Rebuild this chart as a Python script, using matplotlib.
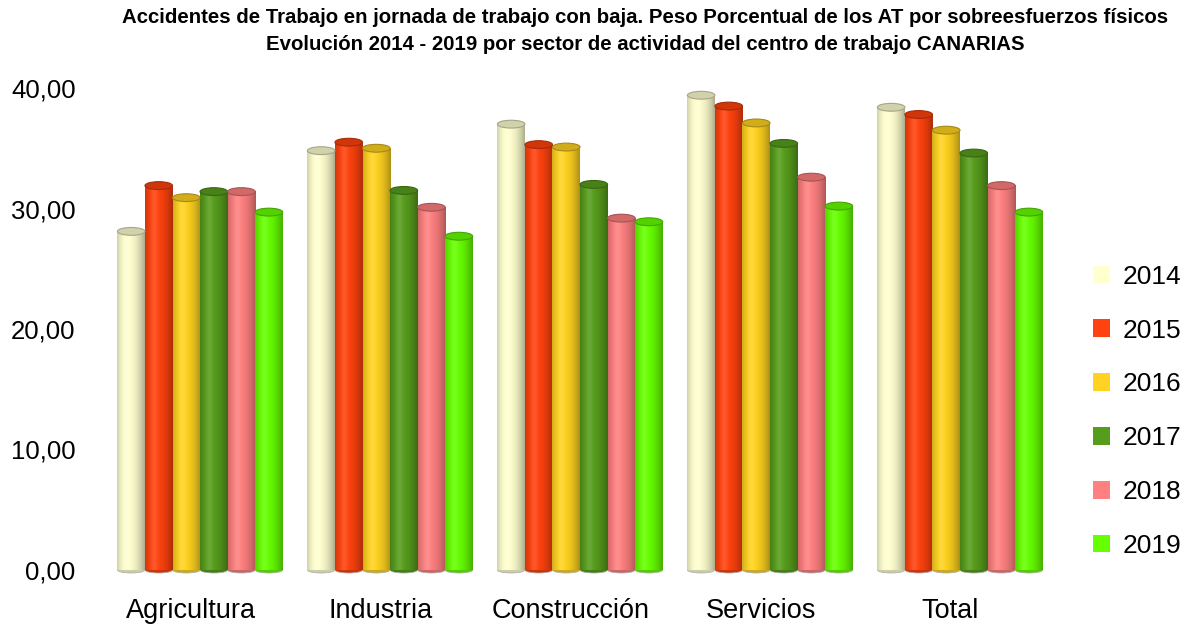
import numpy as np
import matplotlib
matplotlib.use("Agg")
from matplotlib import pyplot as plt
from matplotlib.patches import Ellipse, Patch
from matplotlib.ticker import FuncFormatter

plt.rcParams['font.family'] = ['Liberation Sans', 'DejaVu Sans']

sectores = ["Agricultura", "Industria", "Construcción", "Servicios", "Total"]
years = ["2014", "2015", "2016", "2017", "2018", "2019"]
colors = ["#FFFFD0", "#FF420E", "#FFD320", "#579D1C", "#FF8080", "#66FF00"]

# peso porcentual por año (una lista por año, en orden de sectores)
v2014 = [28.1, 34.8, 37.0, 39.4, 38.4]
v2015 = [31.9, 35.5, 35.3, 38.5, 37.8]
v2016 = [30.9, 35.0, 35.1, 37.1, 36.5]
v2017 = [31.4, 31.5, 32.0, 35.4, 34.6]
v2018 = [31.4, 30.1, 29.2, 32.6, 31.9]
v2019 = [29.7, 27.7, 28.9, 30.2, 29.7]
series = [v2014, v2015, v2016, v2017, v2018, v2019]

fig = plt.figure(figsize=(11.88, 6.25), dpi=100)
ax = fig.add_axes([95 / 1188, 55 / 625, 960 / 1188, 482 / 625])

w = 0.145
t = np.linspace(0, 1, 64)
# cylinder shading across the bar width
shade = np.where(t < 0.35, 1 - 0.18 * ((0.35 - t) / 0.35) ** 2,
                 1 - 0.32 * ((t - 0.35) / 0.65) ** 2)
hl = 0.12 * np.exp(-((t - 0.33) / 0.12) ** 2)

for j, vals in enumerate(series):
    c = np.array(matplotlib.colors.to_rgb(colors[j]))
    grad = np.clip(c[None, :] * shade[:, None] + (1 - c[None, :]) * hl[:, None], 0, 1)
    for i, v in enumerate(vals):
        x0 = i + (j - 2.5) * w - w / 2
        ax.add_patch(Ellipse((x0 + w / 2, 0), w, 0.5, facecolor=c * 0.8,
                             edgecolor="#aaaaaa", lw=0.5, clip_on=False, zorder=2))
        ax.imshow(grad[None, :, :], extent=(x0, x0 + w, 0, v), aspect='auto',
                  interpolation='bilinear', zorder=3)
        ax.add_patch(Ellipse((x0 + w / 2, v), w, 0.65, facecolor=c * 0.82,
                             edgecolor=c * 0.65, lw=0.8, zorder=4))

ax.set_xlim(-0.553, 4.5)
ax.set_ylim(0, 40)
# labels sit slightly left of the group centres
ax.set_xticks(np.arange(len(sectores)) - 0.05)
ax.set_xticklabels(sectores, fontsize=19.5)
ax.set_yticks([0, 10, 20, 30, 40])
ax.yaxis.set_major_formatter(FuncFormatter(lambda y, p: f"{y:.2f}".replace(".", ",")))
ax.tick_params(axis='y', labelsize=18.5, length=0, pad=14)
ax.tick_params(axis='x', length=0, pad=20)
for s in ax.spines.values():
    s.set_visible(False)

handles = [Patch(facecolor=colors[j], edgecolor='none') for j in range(len(years))]
fig.legend(handles, years, loc='center left', bbox_to_anchor=(1069 / 1188, 0.342),
           frameon=False, fontsize=19, handlelength=0.65, handleheight=0.65,
           handletextpad=0.5, labelspacing=1.13)

fig.text(0.543, 0.987, "Accidentes de Trabajo en jornada de trabajo con baja. Peso Porcentual de los AT por sobreesfuerzos físicos\n"
         "Evolución 2014 - 2019 por sector de actividad del centro de trabajo CANARIAS",
         ha='center', va='top', fontsize=14.7, fontweight='bold', linespacing=1.5)

fig.savefig("out.png", dpi=100)
